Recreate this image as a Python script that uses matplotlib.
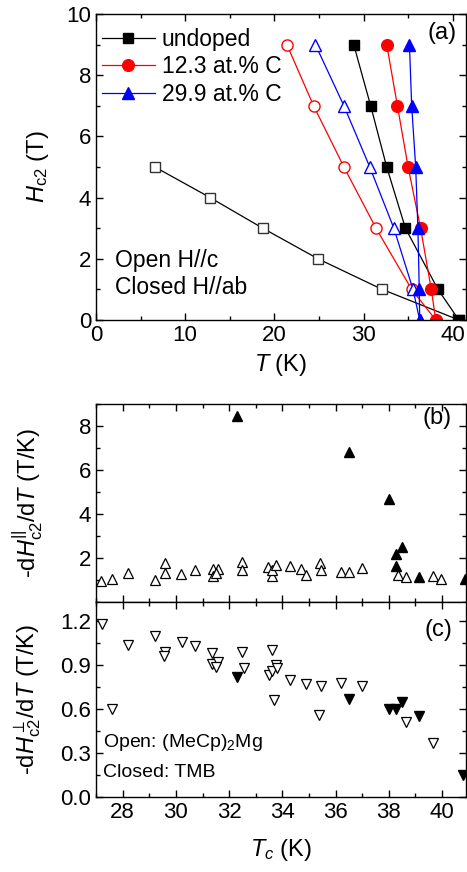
import matplotlib
matplotlib.use("Agg")
import matplotlib.pyplot as plt
from matplotlib.ticker import MultipleLocator, FormatStrFormatter

plt.rcParams['font.family'] = ['Liberation Sans', 'DejaVu Sans']
plt.rcParams['mathtext.fontset'] = 'custom'
plt.rcParams['mathtext.rm'] = 'Liberation Sans'
plt.rcParams['mathtext.it'] = 'Liberation Sans:italic'

# panel (a): Hc2 vs T
H_levels = [9, 7, 5, 3, 1, 0]
und_ab = [28.9, 30.8, 32.6, 34.7, 38.35, 40.7]
c12_ab = [32.6, 33.8, 35.0, 36.4, 37.6, 38.1]
c30_ab = [35.15, 35.4, 35.85, 36.1, 36.25, 36.3]
und_c_H = [5, 4, 3, 2, 1, 0]
und_c = [6.6, 12.8, 18.7, 24.9, 32.1, 40.7]
c12_c = [21.4, 24.4, 27.8, 31.4, 35.4, 38.1]
c30_c = [24.6, 27.8, 30.7, 33.4, 35.55, 36.3]

# panel (b): -dHc2(par)/dT vs Tc
b_open_tc = [27.2, 27.6, 28.2, 29.2, 29.6, 29.6, 30.2, 30.7, 31.4, 31.4, 31.6, 31.5,
             32.5, 32.5, 33.45, 33.6, 33.6, 33.75, 34.3, 34.7, 34.9, 35.4, 35.45,
             36.2, 36.5, 37.0, 38.35, 38.65, 39.65, 39.95]
b_open_val = [0.94, 1.05, 1.32, 1.0, 1.77, 1.3, 1.27, 1.45, 1.5, 1.17, 1.5, 1.32,
              1.83, 1.45, 1.58, 1.2, 1.47, 1.7, 1.65, 1.5, 1.23, 1.77, 1.45,
              1.35, 1.35, 1.55, 1.23, 1.12, 1.2, 1.05]
b_fill_tc = [32.3, 36.5, 38.0, 38.25, 38.5, 38.27, 39.13, 40.85]
b_fill_val = [8.44, 6.83, 4.68, 2.2, 2.52, 1.62, 1.12, 1.03]

# panel (c): -dHc2(perp)/dT vs Tc
c_open_tc = [27.24, 27.6, 28.2, 29.22, 29.6, 29.56, 30.24, 30.7, 31.37, 31.37, 31.6, 31.52,
             32.5, 32.55, 33.6, 33.5, 33.6, 33.77, 33.8, 33.67, 34.27, 34.87, 35.46,
             35.37, 36.21, 36.99, 38.65, 39.67]
c_open_val = [1.18, 0.60, 1.04, 1.10, 0.99, 0.96, 1.06, 1.03, 0.98, 0.91, 0.92, 0.89,
              0.99, 0.88, 1.0, 0.83, 0.86, 0.90, 0.88, 0.66, 0.80, 0.77, 0.76,
              0.56, 0.78, 0.76, 0.51, 0.37]
c_fill_tc = [32.3, 36.5, 38.0, 38.27, 38.5, 39.12, 40.8]
c_fill_val = [0.82, 0.67, 0.60, 0.60, 0.65, 0.55, 0.15]

fig = plt.figure(figsize=(4.67, 8.72), dpi=100)
ax1 = fig.add_axes([0.2056, 0.633, 0.7924, 0.351])
ax2 = fig.add_axes([0.2056, 0.3096, 0.7924, 0.2271])
ax3 = fig.add_axes([0.2056, 0.086, 0.7924, 0.2236])

fs = 16
lab = 17
for ax in (ax1, ax2, ax3):
    ax.tick_params(which='both', direction='in', top=True, right=True, labelsize=fs, width=1)
    ax.tick_params(which='major', length=5)
    ax.tick_params(which='minor', length=3)
    for s in ax.spines.values():
        s.set_linewidth(1)

# (a)
lw = 0.9
ax1.plot(und_c, und_c_H, '-s', color='black', lw=lw, ms=7, mfc='white', mec='#333333', mew=1)
ax1.plot(c12_c, H_levels, '-o', color='red', lw=lw, ms=8, mfc='white', mec='red', mew=1)
ax1.plot(c30_c, H_levels, '-^', color='blue', lw=lw, ms=8.5, mfc='white', mec='blue', mew=1)
ax1.plot(und_ab, H_levels, '-s', color='black', lw=lw, ms=7.4, label='undoped')
ax1.plot(c12_ab, H_levels, '-o', color='red', lw=lw, ms=8.4, label='12.3 at.% C')
ax1.plot(c30_ab, H_levels, '-^', color='blue', lw=lw, ms=8.8, label='29.9 at.% C')
ax1.set_xlim(0, 41.5)
ax1.set_ylim(0, 10)
ax1.xaxis.set_major_locator(MultipleLocator(10))
ax1.xaxis.set_minor_locator(MultipleLocator(5))
ax1.yaxis.set_major_locator(MultipleLocator(2))
ax1.yaxis.set_minor_locator(MultipleLocator(1))
ax1.set_xlabel(r'$T$ (K)', fontsize=lab, va='center')
ax1.set_ylabel(r'$H_{\mathrm{c2}}$ (T)', fontsize=lab, va='center')
ax1.xaxis.set_label_coords(0.5, -0.147)
ax1.yaxis.set_label_coords(-0.157, 0.5)
ax1.legend(loc='upper left', bbox_to_anchor=(-0.021, 1.0), frameon=False, fontsize=16.5,
           numpoints=1, handlelength=2.3, handletextpad=0.3, labelspacing=0.2,
           borderaxespad=0.2)
ax1.text(0.935, 0.938, '(a)', transform=ax1.transAxes, fontsize=lab, ha='center', va='center')
ax1.text(0.051, 0.196, 'Open H//c', transform=ax1.transAxes, fontsize=16.5, va='center')
ax1.text(0.051, 0.105, 'Closed H//ab', transform=ax1.transAxes, fontsize=16.5, va='center')

# (b)
ax2.plot(b_open_tc, b_open_val, '^', ls='none', ms=7, mfc='white', mec='black', mew=0.9)
ax2.plot(b_fill_tc, b_fill_val, '^', ls='none', ms=7, color='black', clip_on=False)
ax2.set_xlim(27, 40.9)
ax2.set_ylim(0, 9)
ax2.xaxis.set_major_locator(MultipleLocator(2))
ax2.xaxis.set_minor_locator(MultipleLocator(1))
ax2.set_yticks([2, 4, 6, 8])
ax2.yaxis.set_minor_locator(MultipleLocator(1))
ax2.tick_params(labelbottom=False)
ax2.set_ylabel(r'-d$H^{||}_{\mathrm{c2}}$/d$T$ (T/K)', fontsize=lab, va='center')
ax2.yaxis.set_label_coords(-0.185, 0.5)
ax2.text(0.922, 0.929, '(b)', transform=ax2.transAxes, fontsize=lab, ha='center', va='center')

# (c)
ax3.plot(c_open_tc, c_open_val, 'v', ls='none', ms=7, mfc='white', mec='black', mew=0.9)
ax3.plot(c_fill_tc, c_fill_val, 'v', ls='none', ms=7, color='black', clip_on=False)
ax3.set_xlim(27, 40.9)
ax3.set_ylim(0, 1.33)
ax3.xaxis.set_major_locator(MultipleLocator(2))
ax3.xaxis.set_minor_locator(MultipleLocator(1))
ax3.yaxis.set_major_locator(MultipleLocator(0.3))
ax3.yaxis.set_minor_locator(MultipleLocator(0.15))
ax3.yaxis.set_major_formatter(FormatStrFormatter('%.1f'))
ax3.set_xlabel(r'$T_c$ (K)', fontsize=lab, va='center')
ax3.xaxis.set_label_coords(0.5, -0.272)
ax3.set_ylabel(r'-d$H^{\perp}_{\mathrm{c2}}$/d$T$ (T/K)', fontsize=lab, va='center')
ax3.yaxis.set_label_coords(-0.185, 0.5)
ax3.text(0.924, 0.856, '(c)', transform=ax3.transAxes, fontsize=lab, ha='center', va='center')
ax3.text(0.019, 0.277, 'Open: (MeCp)$_2$Mg', transform=ax3.transAxes, fontsize=14, va='center')
ax3.text(0.019, 0.128, 'Closed: TMB', transform=ax3.transAxes, fontsize=14, va='center')

fig.savefig('out.png', dpi=100)
